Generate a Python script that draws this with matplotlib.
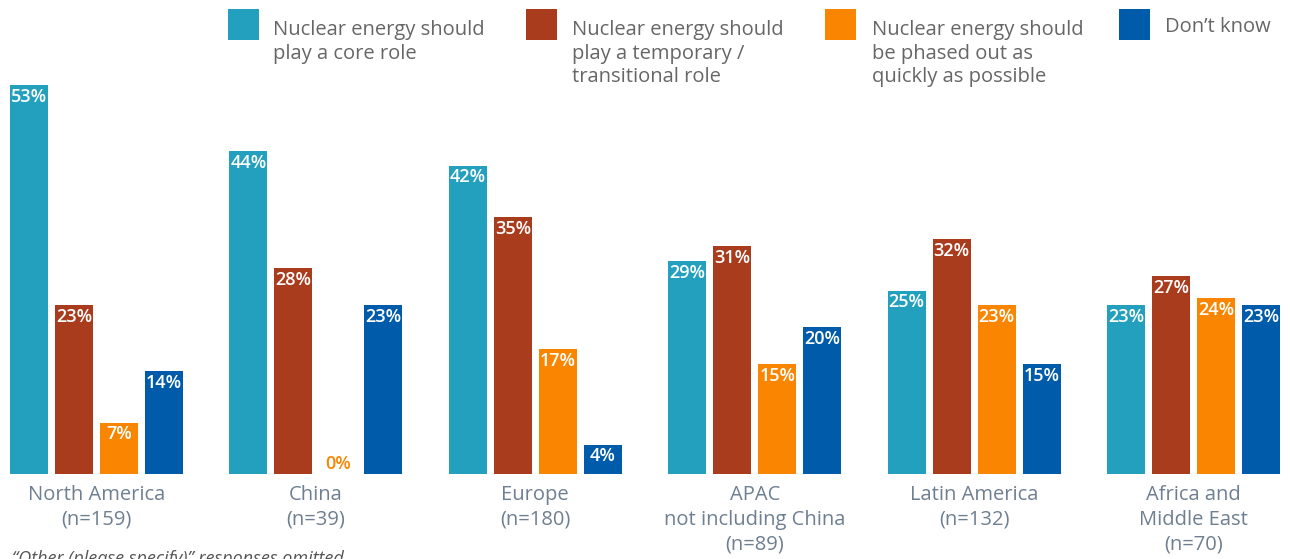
import matplotlib
matplotlib.use("Agg")
import matplotlib.pyplot as plt
import numpy as np

regions = ["North America\n(n=159)", "China\n(n=39)", "Europe\n(n=180)",
           "APAC\nnot including China\n(n=89)", "Latin America\n(n=132)",
           "Africa and\nMiddle East\n(n=70)"]
core_role = [53, 44, 42, 29, 25, 23]
temporary_role = [23, 28, 35, 31, 32, 27]
phase_out = [7, 0, 17, 15, 23, 24]
dont_know = [14, 23, 4, 20, 15, 23]

series_labels = ["Nuclear energy should\nplay a core role",
                 "Nuclear energy should\nplay a temporary /\ntransitional role",
                 "Nuclear energy should\nbe phased out as\nquickly as possible",
                 "Don\u2019t know"]
colors = ["#22A0BE", "#AA3C1E", "#F98500", "#005BAA"]

W, H = 1290, 559
fig = plt.figure(figsize=(W / 100, H / 100), dpi=100)
ax = fig.add_axes([0, 0, 1, 1])

FONT = "Open Sans"
group_px = 219.4
x0_px = 96.5
px_per_pct = 7.34
base_px = 474  # baseline, from top

ax.set_xlim(-x0_px / group_px, (W - x0_px) / group_px)
ax.set_ylim(-(H - base_px) / px_per_pct, base_px / px_per_pct)
ax.axis("off")

width = 38 / group_px
step = 45 / group_px
offsets = (np.arange(4) - 1.5) * step
x = np.arange(len(regions))

for series, off, col in zip([core_role, temporary_role, phase_out, dont_know], offsets, colors):
    ax.bar(x + off, series, width=width, color=col, linewidth=0)
    for xi, v in zip(x + off, series):
        if v > 0:
            ax.annotate(f"{v}%", (xi, v), xytext=(0, -2), textcoords="offset points",
                        ha="center", va="top", color="white", fontsize=13,
                        fontfamily=FONT, fontweight="semibold")
        else:
            ax.annotate(f"{v}%", (xi, v), xytext=(0, 1), textcoords="offset points",
                        ha="center", va="bottom", color=col, fontsize=13,
                        fontfamily=FONT, fontweight="semibold")

# category labels below the bars
for xi, lab in zip(x, regions):
    ax.annotate(lab, (xi, 0), xytext=(0, -8), textcoords="offset points",
                ha="center", va="top", color="#6E7F91", fontsize=14.5,
                fontfamily=FONT, linespacing=1.32)

# legend built from squares and text in figure pixels
def fx(px):
    return px / W

def fy(py):
    return 1 - py / H

leg_sq_x = [228, 526, 825, 1119]
leg_txt_x = [273, 572, 872, 1165]
for sx, tx, col, lab in zip(leg_sq_x, leg_txt_x, colors, series_labels):
    fig.patches.append(plt.Rectangle((fx(sx), fy(40)), 31 / W, 31 / H,
                                     transform=fig.transFigure, color=col, linewidth=0))
    first = 32 if lab.startswith("Don") else 35
    for i, line in enumerate(lab.split("\n")):
        fig.text(fx(tx), fy(first + 23.5 * i), line, ha="left", va="baseline",
                 color="#666666", fontsize=14.5, fontfamily=FONT)

fig.text(fx(12), fy(564), "\u201cOther (please specify)\u201d responses omitted",
         ha="left", va="baseline", color="#555555", fontsize=13, style="italic",
         fontfamily=FONT)

fig.savefig("out.png", dpi=100, facecolor="white")
